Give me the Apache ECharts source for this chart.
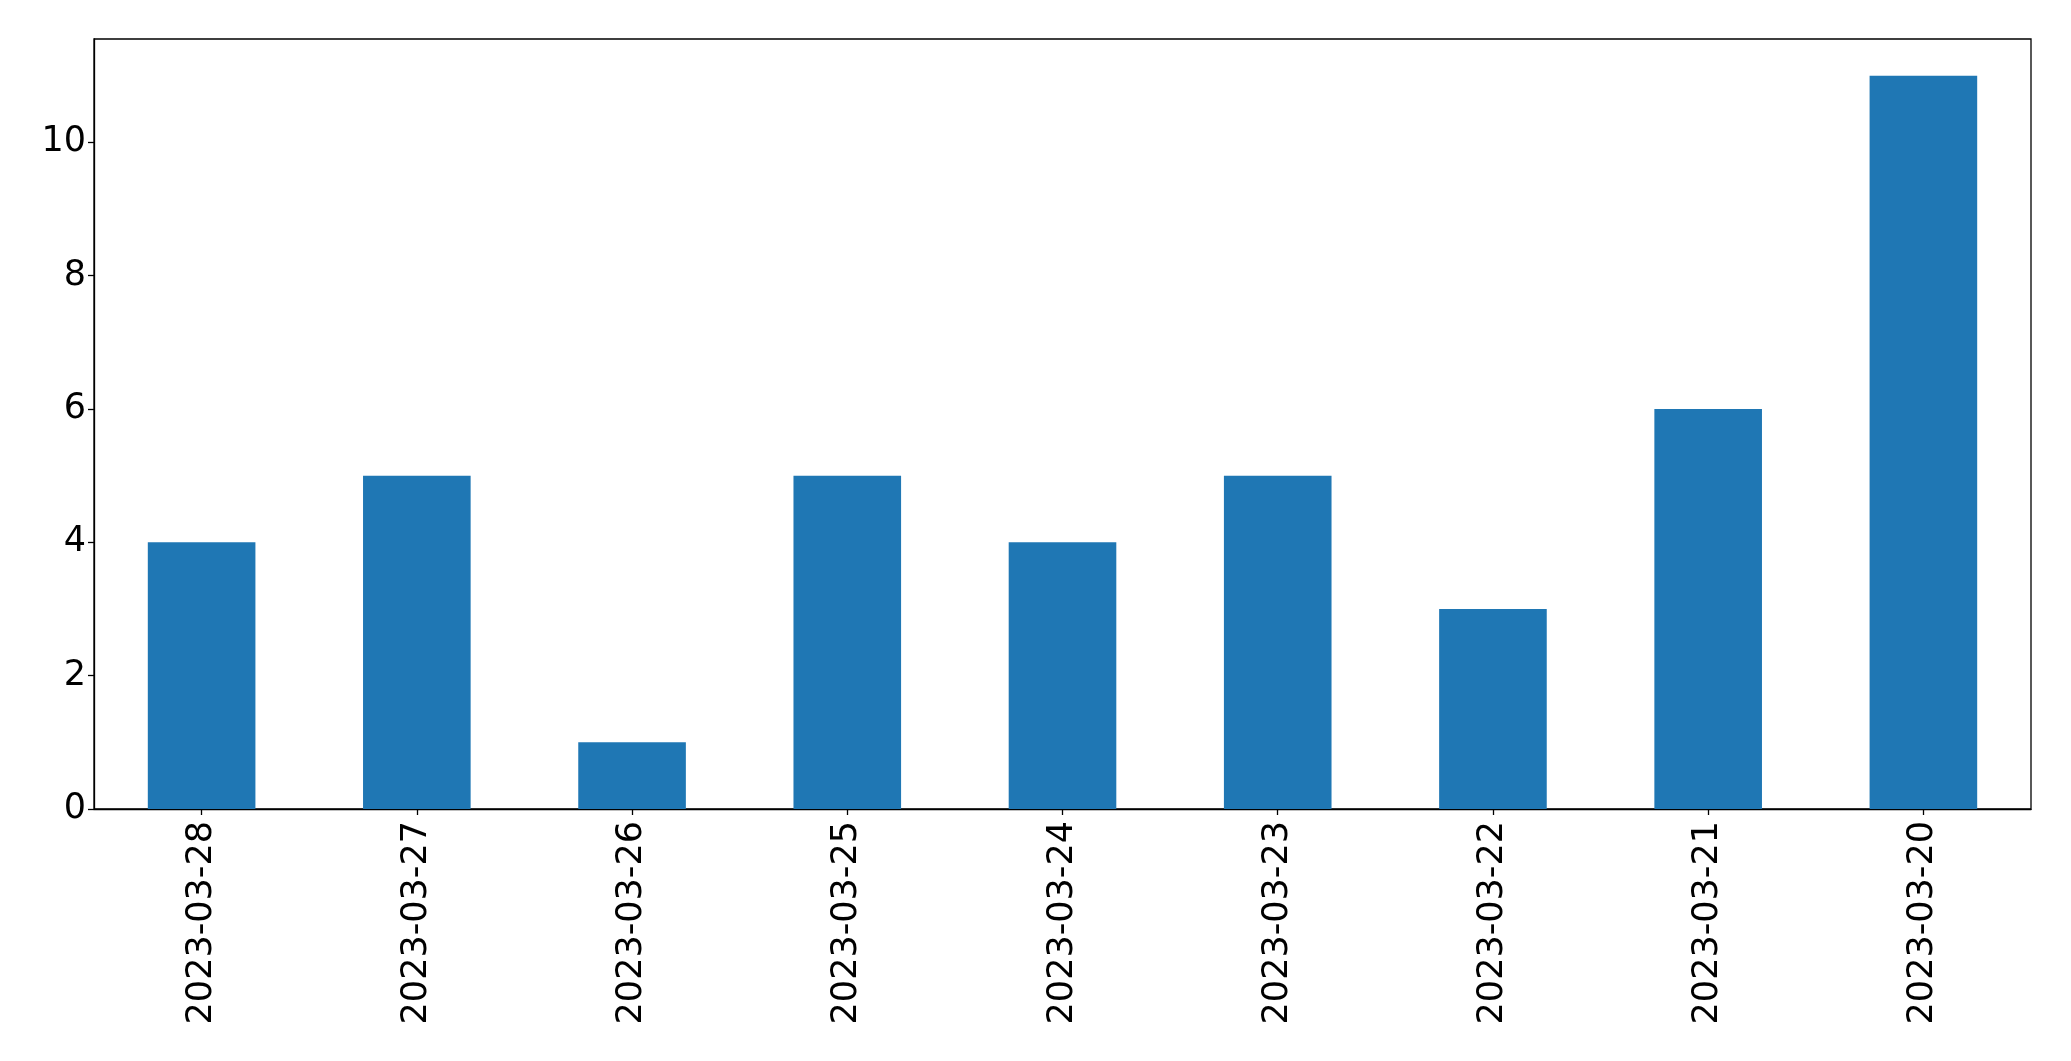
<!DOCTYPE html>
<html>
<head>
<meta charset="utf-8">
<script src="https://cdn.jsdelivr.net/npm/echarts@6/dist/echarts.min.js"></script>
<style>html,body{margin:0;padding:0;background:#fff;}#c{width:2071px;height:1061px;}</style>
</head>
<body>
<div id="c"></div>
<script>
const categories = ["2023-03-28","2023-03-27","2023-03-26","2023-03-25","2023-03-24","2023-03-23","2023-03-22","2023-03-21","2023-03-20"];
const values = [4,5,1,5,4,5,3,6,11];
const yTicks = [0,2,4,6,8,10];

const chart = echarts.init(document.getElementById('c'), null, {renderer:'canvas'});
chart.setOption({
  animation:false,
  backgroundColor:'#fff',
  textStyle:{fontFamily:'DejaVu Sans'},
  grid:{left:94, top:39, right:40, bottom:252, show:true, borderColor:'#000', borderWidth:1.3, backgroundColor:'transparent'},
  xAxis:{
    type:'category', data:categories, boundaryGap:true,
    axisLine:{show:true, lineStyle:{color:'#000', width:1.3}},
    axisTick:{show:true, alignWithLabel:true, length:6, lineStyle:{color:'#000', width:1.3}},
    axisLabel:{rotate:90, fontSize:35, color:'#000', margin:12, fontFamily:'DejaVu Sans', interval:0},
    splitLine:{show:false}
  },
  yAxis:{
    type:'value', min:0, max:11.55, interval:2,
    axisLine:{show:true, lineStyle:{color:'#000', width:1.3}},
    axisTick:{show:true, length:6, customValues:yTicks, lineStyle:{color:'#000', width:1.3}},
    axisLabel:{fontSize:35, color:'#000', margin:8, fontFamily:'DejaVu Sans', customValues:yTicks},
    splitLine:{show:false}
  },
  series:[{type:'bar', data:values, barWidth:'50%', itemStyle:{color:'#1f77b4'}}]
});
</script>
</body>
</html>
